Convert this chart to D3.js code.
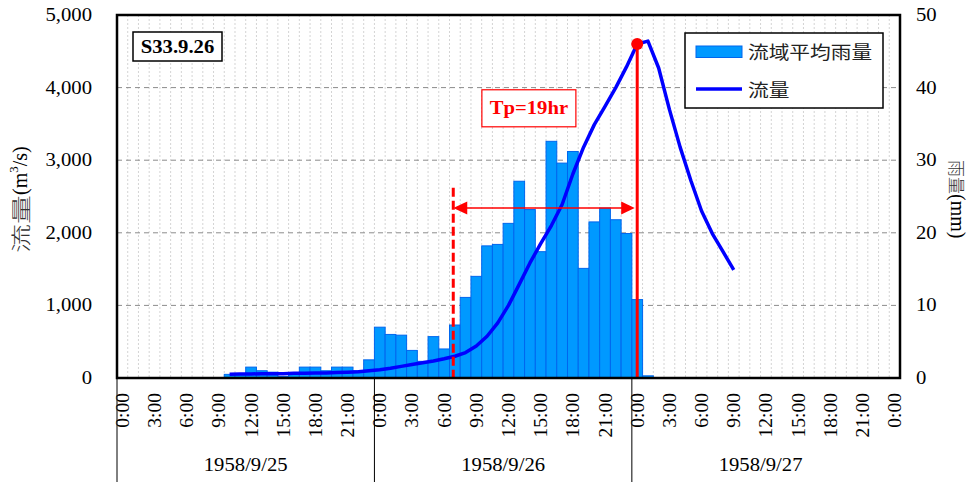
<!DOCTYPE html>
<html lang="ja">
<head>
<meta charset="UTF-8">
<title>S33.9.26 流量・流域平均雨量</title>
<script src="https://d3js.org/d3.v7.min.js"></script>
<style>
    body { margin: 0; background: #fff; }
    svg { display: block; }
    .serif { font-family: "Liberation Serif", "Times New Roman", serif; }
    .cjk { font-family: "Noto Sans CJK JP", sans-serif; }
</style>
</head>
<body>
<div id="chart"></div>
<script>
// 日付・時刻ラベル
const dates = ["1958/9/25", "1958/9/26", "1958/9/27"];
const tickHours = ["0:00", "3:00", "6:00", "9:00", "12:00", "15:00", "18:00", "21:00"];
const flowTicks = [0, 1000, 2000, 3000, 4000, 5000];
const rainTicks = [0, 10, 20, 30, 40, 50];

// 流域平均雨量 (mm) 1時間毎, 1958/9/25 0:00 から
const rain = [
    0, 0, 0, 0, 0, 0, 0, 0, 0, 0,
    0.5, 0.5, 1.5, 1.0, 0.8, 0.2, 0.5, 1.5, 1.5, 1.0,
    1.5, 1.5, 1.0, 2.5, 7.0, 6.0, 5.9, 3.8, 2.3, 5.7,
    4.0, 7.3, 11.1, 14.0, 18.2, 18.4, 21.3, 27.1, 23.2, 17.4,
    32.6, 29.6, 31.2, 15.1, 21.5, 23.4, 21.8, 19.9, 10.8, 0.3
];

// 流量 (m3/s) 9/25 10:00 から
const flowStart = 10;
const flow = [
    50, 55, 55, 60, 60, 60, 65, 65, 70, 70,
    75, 80, 85, 100, 115, 135, 160, 185, 210, 235,
    265, 300, 350, 440, 575, 760, 1000, 1290, 1585, 1850,
    2100, 2390, 2810, 3180, 3490, 3740, 4000, 4285, 4600, 4640,
    4270, 3700, 3180, 2720, 2300, 1990, 1740, 1490
];

// Tp 注記
const peakIndex = 48;        // 9/27 0:00
const tpStartPos = 31.35;    // 破線の位置 (時間)
const tpLineTop = 2620;
const tpArrowLevel = 2340;
const tpLabel = "Tp=19hr";

const W = 977, H = 482;
const margin = { top: 15, right: 77, bottom: 104, left: 117 };
const SX = 1.15; // 横方向の文字の伸び

const svg = d3.select("#chart").append("svg")
    .attr("width", W).attr("height", H);

const nCat = dates.length * 24 + 1;
const x = d3.scaleBand()
    .domain(d3.range(nCat))
    .range([margin.left, W - margin.right])
    .padding(0);
const hx = d3.scaleLinear().domain([0, nCat]).range([margin.left, W - margin.right]);
const y = d3.scaleLinear().domain([0, 5000]).range([H - margin.bottom, margin.top]);
const yR = d3.scaleLinear().domain([0, 50]).range([H - margin.bottom, margin.top]);
const bw = x.bandwidth();
const x0 = margin.left, x1 = W - margin.right;
const yb = y(0), yt = y(5000);

function htext(g, px, py, str, size, cls) {
    return g.append("text")
        .attr("class", cls || "serif")
        .attr("transform", `translate(${px},${py}) scale(${SX},1)`)
        .attr("font-size", size)
        .attr("dominant-baseline", "central")
        .text(str);
}

// 縦グリッド
svg.append("g").selectAll("line")
    .data(d3.range(1, nCat))
    .join("line")
    .attr("x1", d => hx(d)).attr("x2", d => hx(d))
    .attr("y1", yt).attr("y2", yb)
    .attr("stroke", "#d4d4d4")
    .attr("stroke-dasharray", "2,2");

// 横グリッド
svg.append("g").selectAll("line")
    .data(flowTicks.slice(1, -1))
    .join("line")
    .attr("x1", x0).attr("x2", x1)
    .attr("y1", d => y(d)).attr("y2", d => y(d))
    .attr("stroke", "#8c8c8c")
    .attr("stroke-dasharray", "5,4");

// 雨量 棒
svg.append("g").selectAll("rect")
    .data(rain.map((v, i) => ({ i, v })).filter(d => d.v > 0))
    .join("rect")
    .attr("x", d => x(d.i))
    .attr("y", d => yR(d.v))
    .attr("width", bw)
    .attr("height", d => yb - yR(d.v))
    .attr("fill", "#0099ff")
    .attr("stroke", "#0066ee")
    .attr("stroke-width", 1);

// 流量 線
const line = d3.line()
    .x((d, k) => x(flowStart + k) + bw / 2)
    .y(d => y(d));
svg.append("path")
    .datum(flow)
    .attr("d", line)
    .attr("fill", "none")
    .attr("stroke", "#0000ff")
    .attr("stroke-width", 3.5)
    .attr("stroke-linejoin", "round");

// Tp 注記
const peakX = x(peakIndex) + bw / 2;
const peakY = y(flow[peakIndex - flowStart]);
const tpX = hx(tpStartPos);
const ann = svg.append("g");
ann.append("line")
    .attr("x1", tpX).attr("x2", tpX)
    .attr("y1", y(tpLineTop)).attr("y2", yb)
    .attr("stroke", "#ff0000").attr("stroke-width", 3)
    .attr("stroke-dasharray", "9,4");
ann.append("line")
    .attr("x1", peakX).attr("x2", peakX)
    .attr("y1", peakY).attr("y2", yb)
    .attr("stroke", "#ff0000").attr("stroke-width", 3);
const ay = y(tpArrowLevel);
ann.append("line")
    .attr("x1", tpX + 12).attr("x2", peakX - 14)
    .attr("y1", ay).attr("y2", ay)
    .attr("stroke", "#ff0000").attr("stroke-width", 1.5);
ann.append("path")
    .attr("d", `M${tpX},${ay} L${tpX + 14},${ay - 6.5} L${tpX + 14},${ay + 6.5} Z`)
    .attr("fill", "#ff0000");
ann.append("path")
    .attr("d", `M${peakX - 2.5},${ay} L${peakX - 16},${ay - 6.5} L${peakX - 16},${ay + 6.5} Z`)
    .attr("fill", "#ff0000");
ann.append("circle")
    .attr("cx", peakX).attr("cy", peakY).attr("r", 6)
    .attr("fill", "#ff0000");
const tpCx = hx(38.4);
ann.append("rect")
    .attr("x", tpCx - 47).attr("y", y(3970))
    .attr("width", 94).attr("height", y(3460) - y(3970))
    .attr("fill", "#fff").attr("stroke", "#ff0000").attr("stroke-width", 1.2);
htext(ann, tpCx, y(3720), tpLabel, 18)
    .attr("text-anchor", "middle")
    .attr("font-weight", "bold")
    .attr("fill", "#ff0000");

// 枠
svg.append("rect")
    .attr("x", x0).attr("y", yt)
    .attr("width", x1 - x0).attr("height", yb - yt)
    .attr("fill", "none").attr("stroke", "#000").attr("stroke-width", 2.5);

// 左軸
const axL = svg.append("g");
flowTicks.forEach(t => {
    htext(axL, 92, y(t), d3.format(",")(t), 18).attr("text-anchor", "end");
});
// 右軸
const axR = svg.append("g");
rainTicks.forEach(t => {
    htext(axR, 916, yR(t), t, 18).attr("text-anchor", "start");
});

// 軸タイトル
svg.append("text")
    .attr("class", "cjk")
    .attr("transform", `translate(20,253) rotate(-90) scale(1.45,1)`)
    .attr("font-size", 20)
    .attr("font-weight", 300)
    .attr("dominant-baseline", "central")
    .attr("fill", "#333")
    .text("流量");
const tl = svg.append("text")
    .attr("class", "serif")
    .attr("transform", `translate(20,195) rotate(-90)`)
    .attr("font-size", 20)
    .attr("dominant-baseline", "central");
tl.append("tspan").text("(m");
tl.append("tspan").attr("font-size", 13).attr("dy", -7).text("3");
tl.append("tspan").attr("dy", 7).text("/s)");

const tr = svg.append("text")
    .attr("transform", `translate(958,160) rotate(90)`)
    .attr("dominant-baseline", "central");
tr.append("tspan").attr("class", "cjk").attr("font-size", 17).attr("font-weight", 300).attr("fill", "#333").text("雨量");
tr.append("tspan").attr("class", "serif").attr("font-size", 20).text("(mm)");

// 時刻ラベル
const xl = svg.append("g");
d3.range(0, nCat, 3).forEach(i => {
    xl.append("text")
        .attr("class", "serif")
        .attr("transform", `translate(${x(i) + bw / 2},393) rotate(-90)`)
        .attr("font-size", 19.5)
        .attr("text-anchor", "end")
        .attr("dominant-baseline", "central")
        .text(tickHours[(i / 3) % tickHours.length]);
});

// 日付ラベルと区切り線
dates.forEach((d, k) => {
    const gx = hx(k * 24);
    xl.append("line")
        .attr("x1", gx).attr("x2", gx)
        .attr("y1", yb).attr("y2", H)
        .attr("stroke", "#000").attr("stroke-width", 1);
    htext(xl, (hx(k * 24) + hx((k + 1) * 24)) / 2, 465, d, 18)
        .attr("text-anchor", "middle");
});

// タイトル枠
const tb = svg.append("g");
tb.append("rect")
    .attr("x", 133).attr("y", 32).attr("width", 89).attr("height", 29)
    .attr("fill", "#fff").attr("stroke", "#000").attr("stroke-width", 1.5);
htext(tb, 177.5, 46.5, "S33.9.26", 18)
    .attr("text-anchor", "middle")
    .attr("font-weight", "bold");

// 凡例
const lg = svg.append("g");
lg.append("rect")
    .attr("x", 685).attr("y", 33).attr("width", 198).attr("height", 75)
    .attr("fill", "#fff").attr("stroke", "#000").attr("stroke-width", 1.5);
lg.append("rect")
    .attr("x", 696).attr("y", 46).attr("width", 46).attr("height", 11.5)
    .attr("fill", "#0099ff").attr("stroke", "#0066ee");
lg.append("line")
    .attr("x1", 696).attr("x2", 742).attr("y1", 89).attr("y2", 89)
    .attr("stroke", "#0000ff").attr("stroke-width", 3.5);
htext(lg, 748, 52, "流域平均雨量", 18, "cjk").attr("fill", "#222");
htext(lg, 748, 90, "流量", 18, "cjk").attr("fill", "#222");
</script>
</body>
</html>
